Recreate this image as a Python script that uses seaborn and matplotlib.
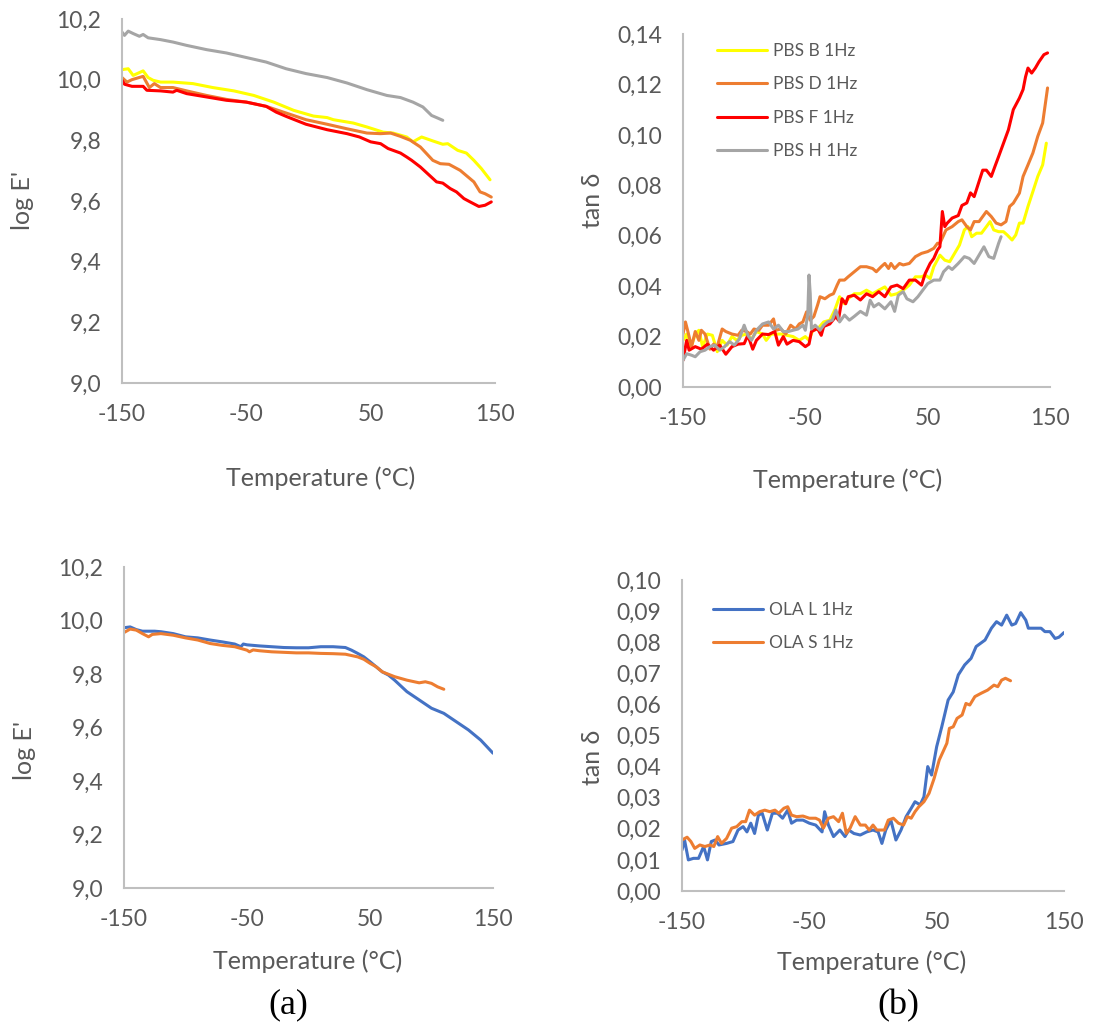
import matplotlib
matplotlib.use('Agg')
import matplotlib.pyplot as plt
import seaborn as sns
from matplotlib.ticker import FuncFormatter, MultipleLocator

sns.set_theme(style='white')
plt.rcParams['font.family'] = ['Lato', 'DejaVu Sans']

# ---- log E' (PBS) ----
pbs_b_T = [-150, -145, -141, -133, -129, -125, -119, -109, -93, -77, -60, -44, -28, -12, 4, 15, 20, 36, 47, 60, 68, 79, 84, 91, 100, 108, 112, 120, 127, 133, 139, 146]
pbs_b_E = [10.033, 10.036, 10.014, 10.029, 10.007, 9.998, 9.992, 9.992, 9.987, 9.974, 9.963, 9.948, 9.926, 9.899, 9.880, 9.875, 9.868, 9.857, 9.844, 9.827, 9.824, 9.811, 9.795, 9.811, 9.798, 9.787, 9.789, 9.767, 9.758, 9.734, 9.707, 9.670]
pbs_d_T = [-150, -146, -142, -133, -128, -124, -119, -109, -98, -82, -66, -50, -34, -18, -2, 15, 31, 47, 58, 66, 74, 82, 90, 100, 106, 113, 122, 133, 138, 142, 147]
pbs_d_E = [10.007, 9.992, 10.000, 10.011, 9.974, 9.987, 9.974, 9.974, 9.963, 9.948, 9.935, 9.926, 9.912, 9.890, 9.868, 9.853, 9.838, 9.824, 9.822, 9.824, 9.813, 9.800, 9.778, 9.734, 9.723, 9.721, 9.701, 9.663, 9.630, 9.624, 9.613]
pbs_f_T = [-150, -148, -142, -133, -130, -119, -109, -106, -98, -82, -66, -50, -34, -26, -18, -2, 15, 31, 41, 50, 58, 64, 74, 79, 83, 90, 103, 108, 114, 119, 125, 130, 137, 142, 147]
pbs_f_E = [9.998, 9.985, 9.978, 9.978, 9.965, 9.963, 9.959, 9.965, 9.954, 9.943, 9.932, 9.926, 9.912, 9.893, 9.879, 9.853, 9.835, 9.822, 9.811, 9.795, 9.789, 9.773, 9.758, 9.745, 9.734, 9.712, 9.663, 9.659, 9.641, 9.630, 9.608, 9.597, 9.582, 9.586, 9.597]
pbs_h_T = [-150, -148, -145, -141, -136, -133, -129, -119, -109, -98, -82, -66, -50, -34, -18, -2, 15, 31, 47, 63, 74, 84, 92, 99, 103, 108]
pbs_h_E = [10.157, 10.146, 10.160, 10.152, 10.143, 10.149, 10.138, 10.132, 10.124, 10.113, 10.099, 10.088, 10.073, 10.058, 10.036, 10.020, 10.007, 9.989, 9.967, 9.948, 9.941, 9.926, 9.910, 9.882, 9.875, 9.866]

# ---- tan delta (PBS) ----
pbs_b_tan_T = [-150, -147, -144, -140, -137, -134, -130, -126, -122, -118, -114, -110, -106, -102, -98, -94, -90, -85, -82, -78, -74, -70, -65, -60, -55, -50, -47, -44, -40, -35, -30, -26, -22, -18, -15, -10, -5, 0, 5, 10, 15, 20, 25, 30, 35, 40, 45, 48, 52, 55, 60, 64, 68, 72, 76, 80, 83, 86, 90, 94, 98, 101, 104, 108, 112, 115, 119, 122, 125, 128, 132, 136, 140, 144, 147]
pbs_b_tan = [0.0185, 0.021, 0.015, 0.021, 0.0225, 0.016, 0.021, 0.0205, 0.014, 0.0185, 0.0166, 0.020, 0.0185, 0.0205, 0.021, 0.019, 0.022, 0.021, 0.0185, 0.021, 0.021, 0.021, 0.0205, 0.020, 0.0185, 0.020, 0.0185, 0.0225, 0.023, 0.0258, 0.0265, 0.0305, 0.0358, 0.033, 0.035, 0.037, 0.037, 0.0384, 0.037, 0.0384, 0.0397, 0.0364, 0.037, 0.0384, 0.0404, 0.0437, 0.0437, 0.0444, 0.043, 0.0477, 0.0523, 0.0503, 0.0497, 0.053, 0.0563, 0.0623, 0.0636, 0.0596, 0.061, 0.061, 0.0636, 0.0656, 0.0623, 0.0616, 0.0616, 0.0603, 0.0583, 0.0603, 0.065, 0.065, 0.0716, 0.0775, 0.0835, 0.0881, 0.0967]
pbs_d_tan_T = [-150, -148, -146, -143, -140, -137, -135, -132, -128, -125, -122, -118, -115, -110, -105, -102, -98, -95, -92, -88, -85, -80, -76, -74, -70, -66, -62, -58, -55, -52, -49, -46, -43, -40, -38, -34, -30, -27, -24, -22, -18, -15, -10, -5, 0, 5, 8, 12, 15, 18, 20, 23, 27, 30, 35, 40, 45, 50, 55, 58, 60, 65, 70, 75, 78, 82, 85, 88, 92, 95, 98, 102, 106, 110, 114, 117, 120, 125, 128, 132, 136, 140, 144, 148]
pbs_d_tan = [0.021, 0.0258, 0.022, 0.016, 0.022, 0.0185, 0.0225, 0.021, 0.015, 0.017, 0.016, 0.023, 0.022, 0.021, 0.0205, 0.0225, 0.022, 0.021, 0.023, 0.0225, 0.0245, 0.0245, 0.027, 0.0225, 0.023, 0.021, 0.0245, 0.023, 0.025, 0.0258, 0.0298, 0.0265, 0.028, 0.0325, 0.0358, 0.035, 0.0364, 0.037, 0.0404, 0.0424, 0.0424, 0.0437, 0.0457, 0.0477, 0.0477, 0.047, 0.0457, 0.0477, 0.049, 0.047, 0.049, 0.047, 0.049, 0.0484, 0.049, 0.0517, 0.053, 0.0537, 0.055, 0.057, 0.057, 0.0623, 0.0636, 0.0656, 0.0663, 0.0636, 0.0623, 0.0656, 0.0656, 0.0676, 0.0696, 0.0676, 0.065, 0.0643, 0.0656, 0.0716, 0.0729, 0.0769, 0.0835, 0.0881, 0.0928, 0.0994, 0.1047, 0.1186]
pbs_f_tan_T = [-150, -147, -145, -140, -135, -130, -125, -120, -115, -110, -105, -100, -97, -93, -90, -85, -80, -75, -72, -68, -65, -60, -55, -50, -47, -45, -40, -37, -35, -30, -25, -23, -20, -17, -15, -10, -5, 0, 5, 10, 15, 20, 25, 30, 35, 40, 45, 48, 52, 55, 58, 60, 62, 64, 66, 70, 75, 78, 82, 85, 88, 92, 95, 98, 102, 105, 108, 112, 116, 120, 125, 128, 130, 132, 135, 138, 141, 145, 148]
pbs_f_tan = [0.0106, 0.0185, 0.0146, 0.016, 0.015, 0.017, 0.0146, 0.0166, 0.013, 0.016, 0.017, 0.0172, 0.0205, 0.015, 0.0185, 0.021, 0.0208, 0.022, 0.0166, 0.020, 0.017, 0.0185, 0.018, 0.016, 0.017, 0.022, 0.0232, 0.0205, 0.024, 0.025, 0.028, 0.0265, 0.035, 0.033, 0.0358, 0.0364, 0.0345, 0.037, 0.0358, 0.0378, 0.0358, 0.0397, 0.0404, 0.039, 0.0424, 0.0424, 0.0404, 0.045, 0.049, 0.051, 0.0543, 0.0556, 0.0696, 0.0636, 0.065, 0.067, 0.068, 0.072, 0.073, 0.077, 0.0755, 0.0815, 0.086, 0.086, 0.0835, 0.0875, 0.0914, 0.0967, 0.102, 0.110, 0.1146, 0.118, 0.123, 0.1265, 0.1245, 0.1265, 0.129, 0.1318, 0.1325]
pbs_h_tan_T = [-150, -147, -143, -140, -136, -132, -128, -124, -120, -116, -112, -108, -104, -100, -97, -94, -90, -85, -80, -76, -72, -68, -64, -60, -56, -52, -50, -48, -47, -46, -45, -42, -38, -35, -32, -28, -25, -22, -18, -14, -10, -5, 0, 3, 6, 10, 15, 20, 23, 26, 30, 33, 38, 42, 46, 50, 55, 60, 63, 67, 70, 75, 80, 84, 88, 92, 96, 100, 104, 108, 110]
pbs_h_tan = [0.0106, 0.0132, 0.0126, 0.012, 0.014, 0.0146, 0.016, 0.0166, 0.0146, 0.016, 0.018, 0.0166, 0.019, 0.0245, 0.0205, 0.0185, 0.0225, 0.025, 0.0258, 0.023, 0.0245, 0.022, 0.022, 0.0225, 0.023, 0.0245, 0.0225, 0.029, 0.0444, 0.037, 0.023, 0.0245, 0.0225, 0.0245, 0.0258, 0.0265, 0.0305, 0.0258, 0.0285, 0.0265, 0.028, 0.030, 0.0285, 0.0344, 0.0318, 0.0331, 0.031, 0.0338, 0.030, 0.0364, 0.0378, 0.035, 0.0338, 0.0358, 0.0384, 0.041, 0.0424, 0.0424, 0.0457, 0.0477, 0.0466, 0.049, 0.0517, 0.051, 0.049, 0.0523, 0.0556, 0.0517, 0.051, 0.057, 0.0596]

# ---- log E' (OLA) ----
ola_l_T = [-150, -145, -140, -135, -125, -120, -110, -100, -90, -80, -70, -60, -55, -53, -50, -40, -30, -20, -10, 0, 10, 20, 30, 35, 40, 45, 50, 55, 60, 65, 70, 80, 90, 100, 110, 120, 130, 140, 150]
ola_l_E = [9.973, 9.976, 9.966, 9.960, 9.960, 9.958, 9.951, 9.939, 9.935, 9.927, 9.920, 9.912, 9.902, 9.912, 9.909, 9.905, 9.902, 9.899, 9.898, 9.898, 9.902, 9.902, 9.899, 9.889, 9.877, 9.864, 9.846, 9.827, 9.808, 9.796, 9.777, 9.734, 9.703, 9.672, 9.653, 9.622, 9.591, 9.553, 9.504]
ola_s_T = [-150, -145, -140, -135, -130, -127, -120, -110, -100, -90, -80, -70, -60, -50, -48, -45, -40, -30, -20, -10, 0, 10, 20, 30, 40, 45, 50, 55, 60, 70, 80, 90, 95, 100, 105, 110]
ola_s_E = [9.955, 9.968, 9.964, 9.951, 9.939, 9.948, 9.951, 9.945, 9.935, 9.927, 9.914, 9.907, 9.902, 9.889, 9.883, 9.890, 9.887, 9.883, 9.881, 9.879, 9.879, 9.877, 9.876, 9.874, 9.864, 9.855, 9.840, 9.827, 9.808, 9.790, 9.777, 9.767, 9.771, 9.765, 9.752, 9.743]

# ---- tan delta (OLA) ----
ola_l_tan_T = [-150, -148, -145, -141, -137, -133, -130, -127, -124, -121, -115, -110, -106, -102, -99, -96, -93, -90, -87, -83, -79, -75, -71, -67, -64, -60, -55, -50, -45, -40, -38, -35, -31, -26, -22, -19, -15, -10, -5, 0, 4, 7, 10, 14, 18, 22, 26, 30, 33, 37, 40, 43, 46, 50, 54, 59, 63, 67, 72, 77, 81, 88, 93, 97, 101, 105, 109, 112, 116, 120, 122, 132, 135, 139, 143, 146, 150]
ola_l_tan = [0.0132, 0.0164, 0.010, 0.0105, 0.0105, 0.0143, 0.010, 0.0159, 0.0164, 0.0148, 0.0153, 0.0159, 0.0196, 0.0207, 0.019, 0.0218, 0.0185, 0.0244, 0.025, 0.0196, 0.025, 0.025, 0.0234, 0.026, 0.0218, 0.0228, 0.0228, 0.0218, 0.0212, 0.019, 0.0255, 0.0212, 0.0175, 0.0196, 0.0175, 0.0196, 0.0185, 0.018, 0.019, 0.0196, 0.019, 0.0153, 0.0196, 0.0228, 0.0164, 0.0196, 0.0239, 0.0266, 0.0287, 0.0277, 0.0303, 0.040, 0.0373, 0.0464, 0.0528, 0.0614, 0.064, 0.0695, 0.0727, 0.0748, 0.0786, 0.0807, 0.0845, 0.0866, 0.0855, 0.0887, 0.0855, 0.086, 0.0895, 0.0871, 0.0845, 0.0845, 0.0834, 0.0834, 0.0812, 0.0816, 0.0831]
ola_s_tan_T = [-150, -146, -143, -140, -136, -132, -128, -125, -122, -119, -115, -111, -107, -103, -100, -97, -93, -89, -85, -81, -77, -74, -70, -67, -64, -60, -55, -50, -45, -42, -39, -35, -31, -27, -24, -21, -18, -14, -10, -6, -3, 0, 3, 6, 9, 12, 16, 20, 24, 27, 30, 33, 36, 40, 44, 48, 52, 55, 58, 60, 63, 66, 70, 73, 76, 80, 85, 90, 95, 98, 101, 104, 108]
ola_s_tan = [0.0164, 0.0173, 0.0159, 0.0137, 0.0148, 0.0143, 0.0148, 0.0143, 0.0175, 0.0153, 0.0169, 0.0202, 0.0207, 0.0223, 0.0223, 0.026, 0.0244, 0.0255, 0.026, 0.0255, 0.026, 0.025, 0.0266, 0.0271, 0.0244, 0.0239, 0.0241, 0.0234, 0.0234, 0.0228, 0.0202, 0.0234, 0.0239, 0.0223, 0.025, 0.0185, 0.0202, 0.0239, 0.0212, 0.0212, 0.0196, 0.0212, 0.0196, 0.0196, 0.0196, 0.0228, 0.0234, 0.0218, 0.0212, 0.0239, 0.0234, 0.0255, 0.0271, 0.0287, 0.0314, 0.0362, 0.0421, 0.0448, 0.0475, 0.0523, 0.0528, 0.0555, 0.0566, 0.0603, 0.0598, 0.0625, 0.0636, 0.0646, 0.0662, 0.0657, 0.0678, 0.0684, 0.0676]

x_ticks = [-150, -50, 50, 150]

c_yellow = '#FFFF00'
c_orange = '#ED7D31'
c_red = '#FF0000'
c_grey = '#A5A5A5'
c_blue = '#4472C4'
text_c = '#595959'
axis_c = '#BFBFBF'
lw = 2.2

W, H = 1097, 1026
fig = plt.figure(figsize=(W / 100, H / 100), dpi=100)


def px_axes(l, r, t, b):
    return fig.add_axes([l / W, 1 - b / H, (r - l) / W, (b - t) / H])


def style(ax, ylo, yhi, step, ndec):
    ax.set_xlim(-150, 150)
    ax.set_ylim(ylo, yhi)
    ax.set_xticks(x_ticks)
    ax.yaxis.set_major_locator(MultipleLocator(step))
    ax.yaxis.set_major_formatter(FuncFormatter(lambda v, p: f'{v:.{ndec}f}'.replace('.', ',')))
    ax.xaxis.set_major_formatter(FuncFormatter(lambda v, p: f'{v:.0f}'))
    ax.tick_params(length=0, labelsize=16.5, labelcolor=text_c)
    ax.tick_params(axis='x', pad=15)
    ax.tick_params(axis='y', pad=15)
    for s in ['top', 'right']:
        ax.spines[s].set_visible(False)
    for s in ['left', 'bottom']:
        ax.spines[s].set_color(axis_c)
        ax.spines[s].set_linewidth(1.5)
    ax.set_xlabel('')
    ax.set_ylabel('')
    ax.grid(False)


ax1 = px_axes(122, 495, 19, 383)
ax2 = px_axes(683, 1050, 34, 387)
ax3 = px_axes(124, 493, 567, 888)
ax4 = px_axes(682, 1064, 580, 891)

sns.lineplot(x=pbs_b_T, y=pbs_b_E, color=c_yellow, lw=lw, ax=ax1)
sns.lineplot(x=pbs_d_T, y=pbs_d_E, color=c_orange, lw=lw, ax=ax1)
sns.lineplot(x=pbs_f_T, y=pbs_f_E, color=c_red, lw=lw, ax=ax1)
sns.lineplot(x=pbs_h_T, y=pbs_h_E, color=c_grey, lw=lw, ax=ax1)
style(ax1, 9.0, 10.2, 0.2, 1)

sns.lineplot(x=pbs_b_tan_T, y=pbs_b_tan, color=c_yellow, lw=lw, ax=ax2, label='PBS B 1Hz')
sns.lineplot(x=pbs_d_tan_T, y=pbs_d_tan, color=c_orange, lw=lw, ax=ax2, label='PBS D 1Hz')
sns.lineplot(x=pbs_f_tan_T, y=pbs_f_tan, color=c_red, lw=lw, ax=ax2, label='PBS F 1Hz')
sns.lineplot(x=pbs_h_tan_T, y=pbs_h_tan, color=c_grey, lw=lw, ax=ax2, label='PBS H 1Hz')
style(ax2, 0.0, 0.14, 0.02, 2)

sns.lineplot(x=ola_l_T, y=ola_l_E, color=c_blue, lw=lw, ax=ax3)
sns.lineplot(x=ola_s_T, y=ola_s_E, color=c_orange, lw=lw, ax=ax3)
style(ax3, 9.0, 10.2, 0.2, 1)

sns.lineplot(x=ola_l_tan_T, y=ola_l_tan, color=c_blue, lw=lw, ax=ax4, label='OLA L 1Hz')
sns.lineplot(x=ola_s_tan_T, y=ola_s_tan, color=c_orange, lw=lw, ax=ax4, label='OLA S 1Hz')
style(ax4, 0.0, 0.10, 0.01, 2)

leg_kw = dict(loc='upper left', frameon=False, fontsize=12.5, labelcolor=text_c,
              handlelength=2.9, handletextpad=0.3, borderpad=0, borderaxespad=0,
              labelspacing=1.0, bbox_transform=fig.transFigure)
ax2.legend(bbox_to_anchor=(717 / W, 1 - 43 / H), **leg_kw)
ax4.legend(bbox_to_anchor=(713 / W, 1 - 602 / H), **leg_kw)


def ftext(x, y, s, **kw):
    fig.text(x / W, 1 - y / H, s, ha='center', va='center', color=text_c, **kw)


ftext(321, 478, 'Temperature (°C)', fontsize=18)
ftext(848, 480, 'Temperature (°C)', fontsize=18)
ftext(308, 961, 'Temperature (°C)', fontsize=18)
ftext(872, 962, 'Temperature (°C)', fontsize=18)
ftext(22, 200, "log E'", fontsize=18, rotation=90)
ftext(592, 200, 'tan δ', fontsize=18, rotation=90)
ftext(25, 750, "log E'", fontsize=18, rotation=90)
ftext(593, 757, 'tan δ', fontsize=18, rotation=90)
fig.text(288 / W, 1 - 1005 / H, '(a)', ha='center', va='center', color='black',
         fontsize=26, family='Liberation Serif')
fig.text(898 / W, 1 - 1006 / H, '(b)', ha='center', va='center', color='black',
         fontsize=26, family='Liberation Serif')

fig.savefig('out.png', dpi=100, facecolor='white')
